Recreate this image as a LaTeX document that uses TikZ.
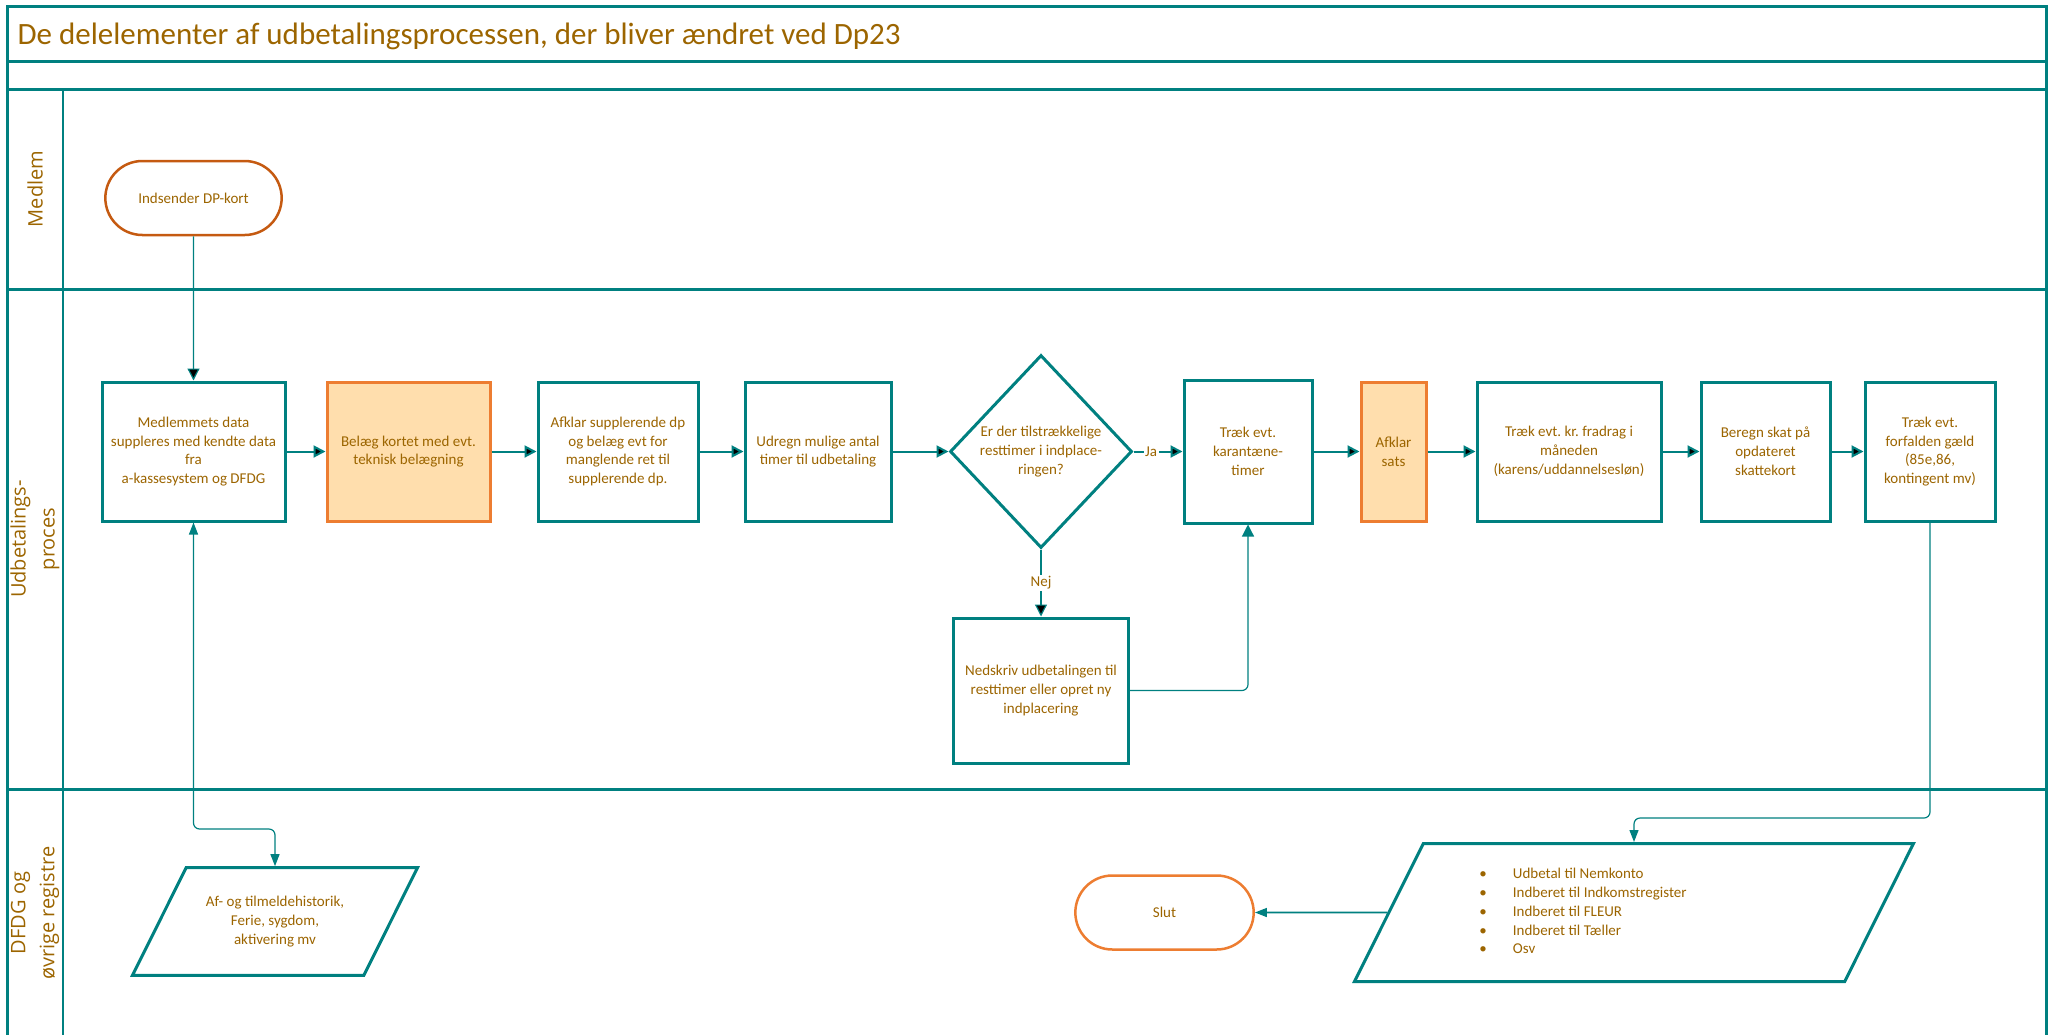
\documentclass[tikz,border=0pt]{standalone}
\usepackage{fontspec}
\setmainfont{Carlito}
\newfontfamily\lanefont{Open Sans}
\frenchspacing
\usetikzlibrary{arrows.meta, positioning, shapes.geometric, shapes.misc}

\definecolor{lanecol}{RGB}{0,128,128}
\definecolor{txtcol}{RGB}{156,101,0}
\definecolor{orgline}{RGB}{237,125,49}
\definecolor{orgfill}{RGB}{255,222,173}
\definecolor{termline}{RGB}{197,90,17}

\tikzset{x = 1pt, y = 1pt,
         node distance = 200pt, on grid,
         >= {Triangle[length = 12pt, width = 12pt]},
         every node/.style = {text = txtcol, font = \fontsize{15}{18.8}\selectfont},
         lane/.style = {draw = lanecol, line width = 3pt},
         lanesep/.style = {draw = lanecol, line width = 2pt},
         lanelabel/.style = {rotate = 90, align = center,
           font = \lanefont\fontsize{20}{29}\selectfont},
         proc/.style = {draw = lanecol, line width = 3pt, fill = white,
           align = center, inner sep = 0pt, minimum height = 139pt},
         hilite/.style = {proc, draw = orgline, fill = orgfill},
         term/.style = {rounded rectangle, draw = termline, line width = 2.5pt,
           fill = white, minimum width = 183pt, minimum height = 74pt},
         decide/.style = {diamond, draw = lanecol, line width = 3pt, fill = white,
           align = center, inner sep = -6pt,
           minimum width = 182pt, minimum height = 193pt},
         io/.style = {trapezium, trapezium left angle = 63.5,
           trapezium right angle = 116.5, trapezium stretches body,
           draw = lanecol, line width = 3pt, fill = white,
           align = center, inner xsep = 0pt},
         flow/.style = {draw = lanecol, line width = 2pt, ->},
         thinflow/.style = {draw = lanecol, line width = 1.2pt, ->},
         regflow/.style = {draw = lanecol, line width = 1.2pt,
           >= {Triangle[length = 12pt, width = 9pt]}},
         answer/.style = {fill = white, inner sep = 1.5pt}}

\begin{document}
\begin{tikzpicture}
  \useasboundingbox (0,0) rectangle (2051,-1034);
  \clip (0,0) rectangle (2051,-1034);

  % swimlanes
  \draw[lane] (7,-6) rectangle (2046,-1038);
  \draw[lane] (7,-61) -- (2046,-61);
  \draw[lane] (7,-89) -- (2046,-89);
  \draw[lane] (7,-289) -- (2046,-289);
  \draw[lane] (7,-789) -- (2046,-789);
  \draw[lanesep] (63,-89) -- (63,-1038);

  \node[anchor = base west, font = \fontsize{31}{37}\selectfont] (title) at (14,-44)
    {De delelementer af udbetalingsprocessen, der bliver ændret ved Dp23};
  \node[lanelabel] (lmed)  at (35,-189) {Medlem};
  \node[lanelabel] (ludb)  at (35,-539) {Udbetalings-\\proces};
  \node[lanelabel] (ldfdg) at (35,-913) {DFDG og\\øvrige registre};

  % udbetalingsprocessen
  \node[proc, minimum width = 183pt] (med) at (193.5,-451.5)
    {Medlemmets data\\suppleres med kendte data\\fra\\a-kassesystem og DFDG};
  \node[term] (ind) [above = 253.5pt of med] {Indsender DP-kort};
  \node[hilite, minimum width = 163pt] (belaeg) [right = 215pt of med]
    {Belæg kortet med evt.\\teknisk belægning};
  \node[proc, minimum width = 160pt] (afkdp) [right = 209.5pt of belaeg]
    {Afklar supplerende dp\\og belæg evt for\\manglende ret til\\supplerende dp.};
  \node[proc, minimum width = 146pt] (udregn) [right = 200pt of afkdp]
    {Udregn mulige antal\\timer til udbetaling};
  \node[decide] (rest) [right = 223pt of udregn]
    {Er der tilstrækkelige\\resttimer i indplace-\\ringen?};
  \node[proc, minimum width = 128pt, minimum height = 143pt] (karant) [right = 207pt of rest]
    {Træk evt.\\karantæne-\\timer};
  \node[hilite, minimum width = 65pt] (sats) [right = 145.5pt of karant] {Afklar\\sats};
  \node[proc, minimum width = 184pt] (fradrag) [right = 175.5pt of sats]
    {Træk evt. kr. fradrag i\\måneden\\(karens/uddannelsesløn)};
  \node[proc, minimum width = 129pt] (skat) [right = 196.5pt of fradrag]
    {Beregn skat på\\opdateret\\skattekort};
  \node[proc, minimum width = 130pt] (gaeld) [right = 164.5pt of skat]
    {Træk evt.\\forfalden gæld\\(85e,86,\\kontingent mv)};
  \node[proc, minimum width = 175pt, minimum height = 145pt] (ned) [below = 239pt of rest]
    {Nedskriv udbetalingen til\\resttimer eller opret ny\\indplacering};

  % registre
  \node[io, minimum width = 285pt, inner ysep = 28.5pt] (hist) at (275,-921.5)
    {Af- og tilmeldehistorik,\\Ferie, sygdom,\\aktivering mv};
  \node[io, minimum width = 559pt, inner ysep = 22pt] (udb) at (1634,-912.5)
    {\begin{tabular}{@{}c@{\hspace{26pt}}l@{}}
       \textbullet & Udbetal til Nemkonto\\
       \textbullet & Indberet til Indkomstregister\\
       \textbullet & Indberet til FLEUR\\
       \textbullet & Indberet til Tæller\\
       \textbullet & Osv
     \end{tabular}\hspace*{102pt}};
  \node[term, draw = orgline, minimum width = 185pt] (slut) [left = 469.5pt of udb] {Slut};

  \coordinate (hc) at (275,-829);
  \coordinate (gc) at (1634,-818);

  \path[thinflow] (ind) edge (med);
  \path[flow] (med) edge (belaeg)
              (belaeg) edge (afkdp)
              (afkdp) edge (udregn)
              (udregn) edge (rest)
              (karant) edge (sats)
              (sats) edge (fradrag)
              (fradrag) edge (skat)
              (skat) edge (gaeld);
  \path[flow] (rest) edge node[answer, pos = 0.36] {Ja} (karant);
  \path[thinflow] (rest) edge node[answer, pos = 0.5] {Nej} (ned);
  \draw[thinflow, rounded corners = 6pt] (ned) -| (karant);
  \draw[regflow, <->, rounded corners = 6pt] (med.south) |- (hc) -- (hc |- hist.north);
  \draw[regflow, ->, rounded corners = 6pt] (gaeld.south) |- (gc) -- (gc |- udb.north);
  \draw[regflow, ->, line width = 1.6pt] (udb.west) -- (slut);
\end{tikzpicture}
\end{document}
